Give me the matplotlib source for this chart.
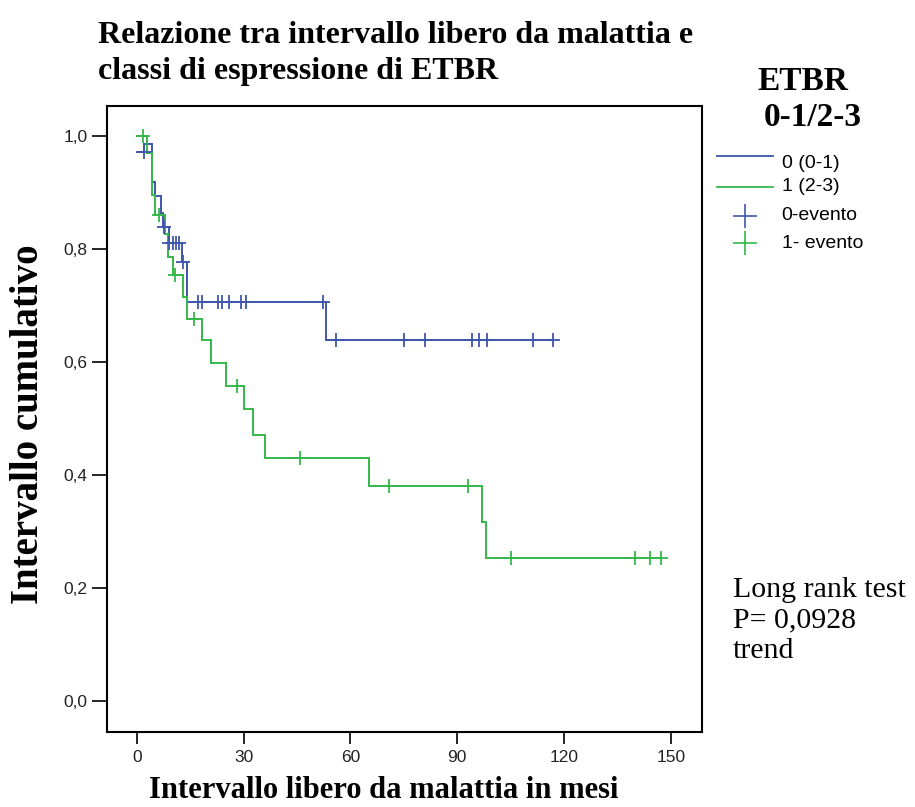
import matplotlib
matplotlib.use("Agg")
import matplotlib.pyplot as plt
from matplotlib.lines import Line2D

# ---------------- data ----------------
x_ticks = [0, 30, 60, 90, 120, 150]
y_ticks = [0.0, 0.2, 0.4, 0.6, 0.8, 1.0]
y_tick_labels = ["0,0", "0,2", "0,4", "0,6", "0,8", "1,0"]

# group 0 (0-1): step start times and survival level from that time
blue_t = [0, 2.0, 4.2, 5.1, 6.7, 7.5, 9.0, 12.6, 14.0, 53.1, 117.0]
blue_s = [0.972, 0.986, 0.920, 0.894, 0.864, 0.839, 0.811, 0.778, 0.7075, 0.6395, 0.6395]
blue_cens_t = [2.0, 7.8, 9.0, 10.1, 11.0, 12.0, 13.0,
               17.3, 18.4, 22.8, 23.9, 26.0, 29.3, 30.7, 52.4,
               55.9, 75.2, 81.0, 94.1, 96.2, 98.3, 111.2, 117.0]
blue_cens_s = [0.972, 0.839, 0.811, 0.811, 0.811, 0.811, 0.778,
               0.7075, 0.7075, 0.7075, 0.7075, 0.7075, 0.7075, 0.7075, 0.7075,
               0.6395, 0.6395, 0.6395, 0.6395, 0.6395, 0.6395, 0.6395, 0.6395]

# group 1 (2-3)
green_t = [0, 2.8, 4.2, 5.1, 7.9, 8.9, 10.3, 12.9, 14.0, 18.3, 20.9, 25.0,
           30.1, 32.8, 36.0, 65.3, 97.1, 98.1, 147.3]
green_s = [1.0, 0.970, 0.897, 0.861, 0.827, 0.787, 0.755, 0.716, 0.676, 0.6395,
           0.599, 0.557, 0.517, 0.4716, 0.431, 0.381, 0.317, 0.2535, 0.2535]
green_cens_t = [1.9, 6.3, 10.8, 16.2, 28.2, 46.0, 71.0, 93.0, 105.1, 140.0, 144.2, 147.3]
green_cens_s = [1.0, 0.861, 0.755, 0.676, 0.557, 0.431, 0.381, 0.381,
                0.2535, 0.2535, 0.2535, 0.2535]

series_labels = ["0 (0-1)", "1 (2-3)"]
event_labels = ["0-evento", "1- evento"]
legend_title = ["ETBR", "0-1/2-3"]
title_lines = ["Relazione tra intervallo libero da malattia e",
               "classi di espressione di ETBR"]
x_label = "Intervallo libero da malattia in mesi"
y_label = "Intervallo cumulativo"
note_lines = ["Long rank test", "P= 0,0928", "trend"]

# ---------------- style ----------------
BLUE = "#3E56AC"
GREEN = "#34B84A"
SERIF = ["Liberation Serif", "DejaVu Serif"]
SANS = ["Liberation Sans", "DejaVu Sans"]

W, H = 915, 807
fig = plt.figure(figsize=(W / 100, H / 100), dpi=100)
fig.patch.set_facecolor("white")


def fx(px):
    return px / W


def fy(py):
    return 1 - py / H


ax = fig.add_axes([fx(106.7), fy(732.3), (701.7 - 106.7) / W, (732.3 - 106.0) / H])

ax.step(blue_t, blue_s, where="post", color=BLUE, lw=1.4, solid_joinstyle="miter")
ax.step(green_t, green_s, where="post", color=GREEN, lw=1.4, solid_joinstyle="miter")
ax.plot(blue_cens_t, blue_cens_s, ls="none", marker="+", ms=9.5, mew=1.3, color=BLUE)
ax.plot(green_cens_t, green_cens_s, ls="none", marker="+", ms=9.5, mew=1.3, color=GREEN)

ax.set_xlim(-8.43, 158.7)
ax.set_ylim(-0.056, 1.054)
ax.set_xticks(x_ticks)
ax.set_xticklabels([str(v) for v in x_ticks])
ax.set_yticks(y_ticks)
ax.set_yticklabels(y_tick_labels)

for sp in ax.spines.values():
    sp.set_linewidth(1.5)
    sp.set_color("black")

ax.tick_params(axis="x", direction="out", length=8.6, width=1.2, pad=4,
               labelsize=12.5, colors="black", labelcolor="#222222")
ax.tick_params(axis="y", direction="out", length=10.8, width=1.2, pad=3,
               labelsize=12.5, colors="black", labelcolor="#222222")
for lab in ax.get_xticklabels() + ax.get_yticklabels():
    lab.set_family(SANS)

# titles / labels
fig.text(fx(98), fy(43), title_lines[0], family=SERIF, weight="bold", fontsize=23,
         ha="left", va="baseline")
fig.text(fx(98), fy(79), title_lines[1], family=SERIF, weight="bold", fontsize=23,
         ha="left", va="baseline")
fig.text(fx(384), fy(790), x_label, family=SERIF, weight="bold", fontsize=22,
         ha="center", va="center")
fig.text(fx(29), fy(424), y_label, family=SERIF, weight="bold", fontsize=28,
         ha="center", va="center", rotation=90)

# legend
fig.text(fx(803), fy(82), legend_title[0], family=SERIF, weight="bold", fontsize=24,
         ha="center", va="center")
fig.text(fx(813), fy(117), legend_title[1], family=SERIF, weight="bold", fontsize=24,
         ha="center", va="center")
for ypx, col, lab, ly in [(155.7, BLUE, series_labels[0], 164),
                          (186.7, GREEN, series_labels[1], 186.7)]:
    fig.add_artist(Line2D([fx(716.7), fx(772.7)], [fy(ypx), fy(ypx)],
                          transform=fig.transFigure, color=col, lw=1.3))
    fig.text(fx(781.7), fy(ly), lab, family=SANS, fontsize=14, ha="left", va="center")
for ypx, col, lab in [(216, BLUE, event_labels[0]), (243.3, GREEN, event_labels[1])]:
    fig.add_artist(Line2D([fx(745)], [fy(ypx)], transform=fig.transFigure, color=col,
                          marker="+", ms=17, mew=1.2, ls="none"))
    fig.text(fx(781.7), fy(ypx), lab, family=SANS, fontsize=14, ha="left", va="center")

# note
for ypx, line in zip([590, 620, 651], note_lines):
    fig.text(fx(733), fy(ypx), line, family=SERIF, fontsize=21.5, ha="left", va="center")

fig.savefig("out.png", dpi=100, facecolor="white")
